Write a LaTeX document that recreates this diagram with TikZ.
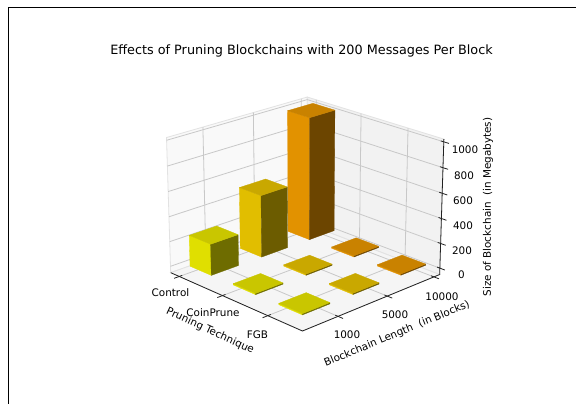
\documentclass[tikz,border=0pt]{standalone}
\usepackage{fontspec}
\setmainfont{DejaVu Sans}
\definecolor{paneL}{HTML}{F9F9F9}
\definecolor{paneR}{HTML}{F2F2F2}
\definecolor{paneF}{HTML}{F5F5F5}
\definecolor{paneE}{HTML}{E2E2E2}
\definecolor{gridc}{HTML}{C8C8C8}
\definecolor{axc}{HTML}{222222}
\definecolor{aL}{HTML}{E0DF00}\definecolor{aR}{HTML}{6E6C00}\definecolor{aT}{HTML}{C9C600}
\definecolor{bL}{HTML}{E1BE00}\definecolor{bR}{HTML}{6C5C00}\definecolor{bT}{HTML}{C9A800}
\definecolor{cL}{HTML}{E29200}\definecolor{cR}{HTML}{6C4500}\definecolor{cT}{HTML}{C98200}
% projection parameters
\def\El{21}\def\Az{-44}\def\Dist{17.5}\def\Kf{1690}\def\Cx{305}\def\Cy{207}\def\Hz{0.75}
\newcommand\mkpt[4]{%
 \pgfmathsetmacro\tX{2*(#2)-1}%
 \pgfmathsetmacro\tY{2*(#3)-1}%
 \pgfmathsetmacro\tZ{\Hz*(2*(#4)-1)}%
 \pgfmathsetmacro\tD{\Dist-((\tX)*(\nX)+(\tY)*(\nY)+(\tZ)*(\nZ))}%
 \pgfmathsetmacro\tSx{\Cx+\Kf*((\tX)*(\rX)+(\tY)*(\rY))/\tD}%
 \pgfmathsetmacro\tSy{\Cy-\Kf*((\tX)*(\uX)+(\tY)*(\uY)+(\tZ)*(\uZ))/\tD}%
 \coordinate (#1) at (\tSx,\tSy);}
\newcommand\drawbar[7]{%
 \pgfmathsetmacro\bu{0.070+0.341*#2}\pgfmathsetmacro\bU{\bu+0.17}%
 \pgfmathsetmacro\bv{0.075+0.355*#3}\pgfmathsetmacro\bV{\bv+0.19}%
 \pgfmathsetmacro\bw{52/1073}\pgfmathsetmacro\bW{(#4+52)/1073}%
 \mkpt{#1a}{\bu}{\bv}{\bw}\mkpt{#1b}{\bU}{\bv}{\bw}\mkpt{#1c}{\bU}{\bV}{\bw}%
 \mkpt{#1e}{\bu}{\bv}{\bW}\mkpt{#1f}{\bU}{\bv}{\bW}\mkpt{#1g}{\bU}{\bV}{\bW}\mkpt{#1h}{\bu}{\bV}{\bW}%
 \filldraw[fill=#5,draw=#5,line width=0.3pt,line join=round] (#1a)--(#1b)--(#1f)--(#1e)--cycle;
 \filldraw[fill=#6,draw=#6,line width=0.3pt,line join=round] (#1b)--(#1c)--(#1g)--(#1f)--cycle;
 \filldraw[fill=#7,draw=#7,line width=0.3pt,line join=round] (#1e)--(#1f)--(#1g)--(#1h)--cycle;}
\begin{document}
\begin{tikzpicture}[x=1pt,y=-1pt,
  gridl/.style={draw=gridc,line width=0.8pt},
  axisl/.style={draw=axc,line width=0.8pt},
  tick/.style={font=\fontsize{10.4}{12}\selectfont,inner sep=0pt},
  albl/.style={font=\fontsize{10.4}{12}\selectfont,inner sep=0pt}]
\pgfmathsetmacro\rX{-sin(\Az)}
\pgfmathsetmacro\rY{cos(\Az)}
\pgfmathsetmacro\uX{-sin(\El)*cos(\Az)}
\pgfmathsetmacro\uY{-sin(\El)*sin(\Az)}
\pgfmathsetmacro\uZ{cos(\El)}
\pgfmathsetmacro\nX{cos(\El)*cos(\Az)}
\pgfmathsetmacro\nY{cos(\El)*sin(\Az)}
\pgfmathsetmacro\nZ{sin(\El)}
\useasboundingbox (0,0) rectangle (576,404);
\fill[white] (0,0) rectangle (576,404);
\coordinate (fa) at (8,404); \coordinate (fb) at (8,8); \coordinate (fc) at (576,8);
\draw[black,line width=1pt] (fa)--(fb)--(fc);
% box corners
\mkpt{L}{0}{0}{0}\mkpt{F}{1}{0}{0}\mkpt{R}{1}{1}{0}\mkpt{B}{0}{1}{0}
\mkpt{Lt}{0}{0}{1}\mkpt{Rt}{1}{1}{1}\mkpt{Bt}{0}{1}{1}
% panes
\filldraw[fill=paneL,draw=paneE,line width=0.8pt] (L)--(B)--(Bt)--(Lt)--cycle;
\filldraw[fill=paneR,draw=paneE,line width=0.8pt] (B)--(R)--(Rt)--(Bt)--cycle;
\filldraw[fill=paneF,draw=paneE,line width=0.8pt] (L)--(F)--(R)--(B)--cycle;
% grid
\foreach \z in {0,200,400,600,800,1000}{%
  \pgfmathsetmacro\ww{(\z+52)/1073}%
  \mkpt{gl}{0}{0}{\ww}\mkpt{gm}{0}{1}{\ww}\mkpt{gr}{1}{1}{\ww}%
  \draw[gridl] (gl)--(gm)--(gr);}
\foreach \v in {0.245,0.600,0.955}{%
  \mkpt{gp}{0}{\v}{0}\mkpt{gq}{0}{\v}{1}\mkpt{gs}{1}{\v}{0}%
  \draw[gridl] (gq)--(gp)--(gs);}
\foreach \u in {0.070,0.412,0.752}{%
  \mkpt{gp}{\u}{1}{0}\mkpt{gq}{\u}{1}{1}\mkpt{gs}{\u}{0}{0}%
  \draw[gridl] (gq)--(gp)--(gs);}
% axes
\draw[axisl] (L)--(F)--(R)--(Rt);
\foreach \u in {0.070,0.412,0.752}{%
  \mkpt{ta}{\u}{0.02}{0}\mkpt{tb}{\u}{-0.035}{0}\draw[axisl] (ta)--(tb);}
\foreach \v in {0.245,0.600,0.955}{%
  \mkpt{ta}{0.98}{\v}{0}\mkpt{tb}{1.035}{\v}{0}\draw[axisl] (ta)--(tb);}
\foreach \z in {0,200,400,600,800,1000}{%
  \pgfmathsetmacro\ww{(\z+52)/1073}%
  \mkpt{ta}{0.98}{1}{\ww}\mkpt{tb}{1.035}{1}{\ww}\draw[axisl] (ta)--(tb);}
% bars, back to front
\drawbar{b02}{0}{2}{1000}{cL}{cR}{cT}
\drawbar{b01}{0}{1}{500}{bL}{bR}{bT}
\drawbar{b12}{1}{2}{10}{cL}{cR}{cT}
\drawbar{b00}{0}{0}{250}{aL}{aR}{aT}
\drawbar{b11}{1}{1}{10}{bL}{bR}{bT}
\drawbar{b22}{2}{2}{10}{cL}{cR}{cT}
\drawbar{b10}{1}{0}{10}{aL}{aR}{aT}
\drawbar{b21}{2}{1}{10}{bL}{bR}{bT}
\drawbar{b20}{2}{0}{10}{aL}{aR}{aT}
% labels
\node[font=\fontsize{12.8}{15}\selectfont,inner sep=0pt] (title) at (301.5,51) {Effects of Pruning Blockchains with 200 Messages Per Block};
\node[tick] (tc1) at (170.5,293) {Control};
\node[tick] (tc2) at (213,313) {CoinPrune};
\node[tick] (tc3) at (257.5,335) {FGB};
\node[tick] (tl1) at (347,335) {1000};
\node[tick] (tl2) at (395,315) {5000};
\node[tick] (tl3) at (442,297) {10000};
\node[tick] (tz0) at (461.5,275) {0};
\node[tick] (tz1) at (462,251) {200};
\node[tick] (tz2) at (463,226) {400};
\node[tick] (tz3) at (463,201) {600};
\node[tick] (tz4) at (464,176) {800};
\node[tick] (tz5) at (465,150) {1000};
\node[albl,rotate=-24.8] (xl) at (210,331) {Pruning Technique};
\node[albl,rotate=22.5] (yl) at (397,334) {Blockchain Length\ \ (in Blocks)};
\node[albl,rotate=90] (zl) at (488,207) {Size of Blockchain\ \ (in Megabytes)};
\end{tikzpicture}
\end{document}
